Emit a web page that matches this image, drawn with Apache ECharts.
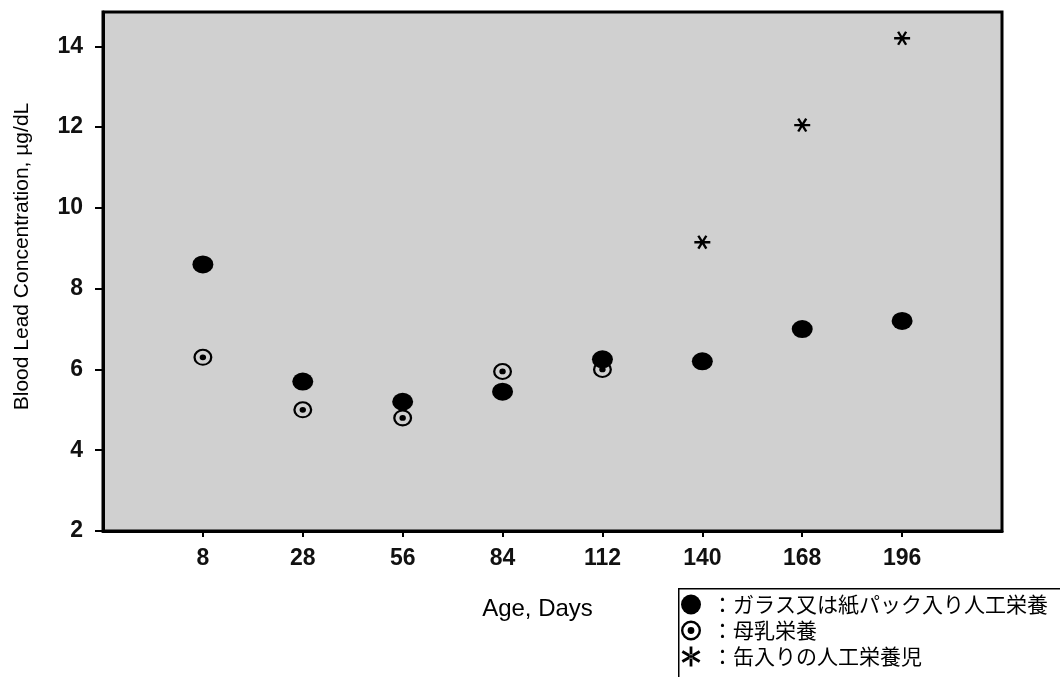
<!DOCTYPE html>
<html>
<head>
<meta charset="utf-8">
<script src="https://cdn.jsdelivr.net/npm/echarts@6/dist/echarts.min.js"></script>
<style>
  html, body { margin: 0; padding: 0; background: #fff; }
  #chart { width: 1060px; height: 677px; }
</style>
</head>
<body>
<div id="chart"></div>
<script>
// x の目盛り（日齢）
const dayLabels = ['8', '28', '56', '84', '112', '140', '168', '196'];
const yTicks = [2, 4, 6, 8, 10, 12, 14];

// 系列名
const nameGlass = 'ガラス又は紙パック入り人工栄養';
const nameBreast = '母乳栄養';
const nameCan = '缶入りの人工栄養児';

// 値（日齢インデックス, 血中鉛濃度 µg/dL）
const glassValues = [8.6, 5.7, 5.2, 5.45, 6.25, 6.2, 7.0, 7.2];
const breastValues = [6.3, 5.0, 4.8, 5.95, 6.0];
const canValues = [null, null, null, null, null, 9.15, 12.05, 14.2];

// シンボル
const ringDot = 'path://M10,0 A10,10 0 1,1 10,20 A10,10 0 1,1 10,0 Z M10,2.4 A7.6,7.6 0 1,0 10,17.6 A7.6,7.6 0 1,0 10,2.4 Z M10,6.6 A3.4,3.4 0 1,1 10,13.4 A3.4,3.4 0 1,1 10,6.6 Z';
const asterisk = 'path://M0,8.4 L20,8.4 L20,11.6 L0,11.6 Z M6.3,0.59 L16.3,17.91 L13.7,19.41 L3.7,2.09 Z M3.7,17.91 L13.7,0.59 L16.3,2.09 L6.3,19.41 Z';
// 凡例用（縦棒のアスタリスク）
const asteriskV = 'path://M8.6,0 L11.4,0 L11.4,20 L8.6,20 Z M0.59,6.3 L17.91,16.3 L19.41,13.7 L2.09,3.7 Z M17.91,3.7 L0.59,13.7 L2.09,16.3 L19.41,6.3 Z';

function toPoints(arr) {
    return arr.map((v, i) => [i, v]).filter(p => p[1] != null);
}

let myChart = echarts.init(document.getElementById('chart'));
let option = {
    backgroundColor: '#fff',
    animation: false,
    textStyle: { fontFamily: 'Liberation Sans, Arial, sans-serif' },
    grid: {
        left: 103,
        right: 58,
        top: 12,
        bottom: 146,
        show: true,
        backgroundColor: '#d0d0d0',
        borderColor: '#000',
        borderWidth: 3
    },
    // 凡例の枠
    graphic: [
        {
            type: 'rect',
            left: 678,
            top: 588,
            z: 1,
            shape: { width: 400, height: 120 },
            style: { fill: '#fff', stroke: '#000', lineWidth: 1.5 }
        }
    ],
    xAxis: {
        type: 'value',
        min: -1,
        max: 8,
        interval: 1,
        name: 'Age, Days',
        nameLocation: 'middle',
        nameGap: 66,
        nameTextStyle: { fontSize: 24, color: '#000', padding: [0, 30, 0, 0] },
        axisLine: { onZero: false, lineStyle: { color: '#000', width: 3 } },
        axisTick: { show: true, length: 6, lineStyle: { color: '#000', width: 2 }, customValues: dayLabels.map((d, i) => i) },
        axisLabel: {
            fontSize: 23,
            fontWeight: 'bold',
            color: '#111',
            margin: 16,
            customValues: dayLabels.map((d, i) => i),
            formatter: v => dayLabels[v] || ''
        },
        splitLine: { show: false }
    },
    yAxis: {
        type: 'value',
        min: 2,
        max: 14.85,
        interval: 2,
        name: 'Blood Lead Concentration, µg/dL',
        nameLocation: 'middle',
        nameGap: 70,
        nameTextStyle: { fontSize: 21, color: '#000', padding: [0, 0, 0, 30] },
        axisLine: { show: true, onZero: false, lineStyle: { color: '#000', width: 3 } },
        axisTick: { show: true, length: 8, lineStyle: { color: '#000', width: 2 }, customValues: yTicks },
        axisLabel: { fontSize: 23, fontWeight: 'bold', color: '#111', margin: 20, customValues: yTicks },
        splitLine: { show: false }
    },
    legend: {
        orient: 'vertical',
        left: 679,
        top: 592,
        padding: [2, 2, 2, 2],
        itemWidth: 20,
        itemHeight: 20,
        itemGap: 5,
        formatter: name => '：' + name,
        textStyle: { fontFamily: 'Noto Sans CJK JP', fontSize: 21, color: '#000', padding: [0, 0, 0, 6] },
        data: [
            { name: nameGlass, icon: 'circle', itemStyle: { color: '#000' } },
            { name: nameBreast, icon: ringDot, itemStyle: { color: '#000' } },
            { name: nameCan, icon: asteriskV, itemStyle: { color: '#000' } }
        ]
    },
    series: [
        {
            name: nameGlass,
            type: 'scatter',
            symbol: 'circle',
            symbolSize: [21, 18],
            itemStyle: { color: '#000', opacity: 1 },
            data: toPoints(glassValues)
        },
        {
            name: nameBreast,
            type: 'scatter',
            symbol: ringDot,
            symbolSize: [19, 17],
            itemStyle: { color: '#000', opacity: 1 },
            data: toPoints(breastValues)
        },
        {
            name: nameCan,
            type: 'scatter',
            symbol: asterisk,
            symbolSize: [16, 14],
            itemStyle: { color: '#000', opacity: 1 },
            data: toPoints(canValues)
        }
    ]
};
myChart.setOption(option);
</script>
</body>
</html>
